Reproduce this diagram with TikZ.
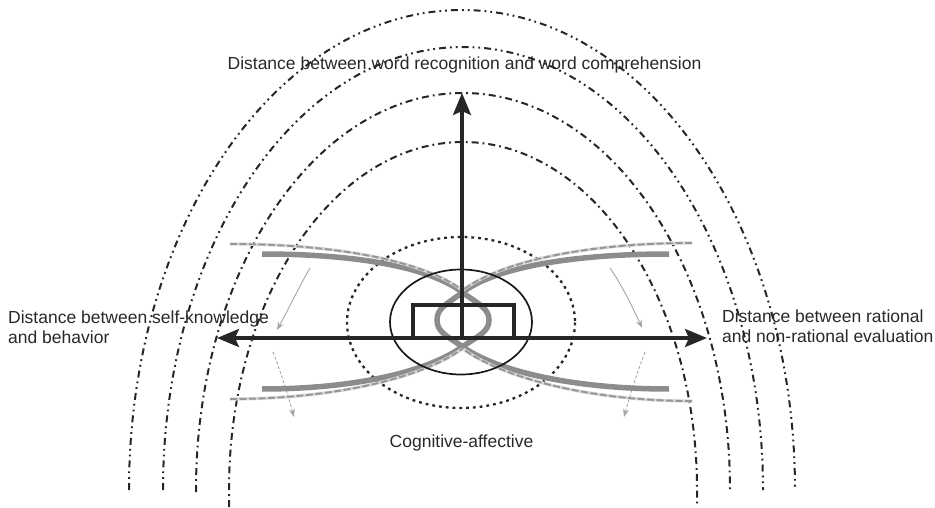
\documentclass[tikz,border=0pt]{standalone}
\usepackage{fontspec}
\setmainfont{Liberation Sans}
\usetikzlibrary{arrows.meta}
\definecolor{axiscol}{RGB}{38,38,38}
\definecolor{txtcol}{RGB}{40,40,40}
\definecolor{ribbon}{RGB}{140,140,140}
\definecolor{ribdash}{RGB}{150,150,150}
\definecolor{thinarr}{RGB}{165,165,165}
\begin{document}
\begin{tikzpicture}[x=1pt,y=-1pt,
  axisline/.style={axiscol, line width=3.2pt},
  bigtip/.tip={Stealth[length=22pt,width=18pt,inset=4pt]},
  arcdd/.style={black!85, line width=2pt, dash pattern=on 7pt off 4pt on 1.8pt off 4pt on 1.8pt off 4pt},
  arcd/.style={black!85, line width=2pt, dash pattern=on 7pt off 4pt on 1.8pt off 4pt},
  dotring/.style={black!85, line width=2.3pt, dash pattern=on 2.8pt off 4pt},
  ribbonline/.style={ribbon, line width=5.5pt},
  ribbondash/.style={ribdash, line width=1.9pt, dash pattern=on 7pt off 2.5pt,
     preaction={draw, gray!30, line width=3.2pt, solid}},
  turnarrow/.style={thinarr, line width=0.9pt, -{Stealth[length=8pt,width=6pt]}},
  turndash/.style={thinarr, line width=0.9pt, dash pattern=on 3pt off 2pt, -{Stealth[length=8pt,width=6pt]}},
  lbl/.style={txtcol, inner sep=0pt, font=\fontsize{17.5}{19.3}\selectfont}
]
\useasboundingbox (0,0) rectangle (935,508);

% outer dash-dot arches
\draw[arcdd] (129,490) arc[start angle=180, end angle=360, x radius=333, y radius=480];
\draw[arcdd] (163,490) arc[start angle=180, end angle=360, x radius=300, y radius=443];
\draw[arcd] (196,492) -- (196,490) arc[start angle=180, end angle=360, x radius=267, y radius=397];
\draw[arcd] (229,507) -- (229,490) arc[start angle=180, end angle=360, x radius=234, y radius=348] -- (697,507);

% dotted inner ellipse
\draw[dotring] (461,322.5) ellipse[x radius=114, y radius=85.5];

% thin turning arrows
\coordinate (ta1) at (310,268); \coordinate (ta2) at (277,330);
\coordinate (tb1) at (273,352); \coordinate (tb2) at (294,417);
\coordinate (tc1) at (610,268); \coordinate (tc2) at (642,328);
\coordinate (td1) at (645,352); \coordinate (td2) at (624,417);
\draw[turnarrow] (ta1) .. controls (300,285) and (288,310) .. (ta2);
\draw[turndash] (tb1) .. controls (280,370) and (288,395) .. (tb2);
\draw[turnarrow] (tc1) .. controls (622,285) and (634,310) .. (tc2);
\draw[turndash] (td1) .. controls (638,370) and (630,395) .. (td2);

% gray ribbons (two hairpins)
\draw[ribbonline] (262,254) .. controls (360,254) and (430,268) .. (462,292)
   .. controls (478,304) and (489,308) .. (489,320)
   .. controls (489,332) and (478,336) .. (462,347)
   .. controls (430,370) and (360,389) .. (262,389);
\draw[ribbonline] (669,254) .. controls (570,254) and (495,268) .. (463,292)
   .. controls (447,304) and (437,308) .. (437,320)
   .. controls (437,332) and (447,336) .. (463,347)
   .. controls (495,370) and (570,389) .. (669,389);
% dashed companions
\draw[ribbondash] (230,244) .. controls (340,244) and (425,262) .. (462,290);
\draw[ribbondash] (230,399) .. controls (340,399) and (425,376) .. (462,349);
\draw[ribbondash] (692,243) .. controls (585,243) and (500,262) .. (463,290);
\draw[ribbondash] (692,401) .. controls (585,401) and (500,376) .. (463,349);

% solid ellipse and box
\draw[black!90, line width=1.7pt] (461,322) ellipse[x radius=71, y radius=52.5];
\draw[axisline, line join=miter] (413,338) -- (413,305) -- (514,305) -- (514,338);

% axes
\coordinate (O) at (462,338);
\coordinate (T) at (462,93);
\coordinate (L) at (217,338);
\coordinate (R) at (707,338);
\draw[axisline, -{bigtip}] (O) -- (T);
\draw[axisline, {bigtip}-{bigtip}] (L) -- (R);

% labels
\node[lbl, anchor=base] (top) at (464.5,70) {Distance between word recognition and word comprehension};
\node[lbl, anchor=base west, align=left] (left) at (8,343) {Distance between self-knowledge\\and behavior};
\node[lbl, anchor=base west, align=left] (right) at (722,342) {Distance between rational\\and non-rational evaluation};
\node[lbl, anchor=base] (bottom) at (461.5,447) {Cognitive-affective};
\end{tikzpicture}
\end{document}
